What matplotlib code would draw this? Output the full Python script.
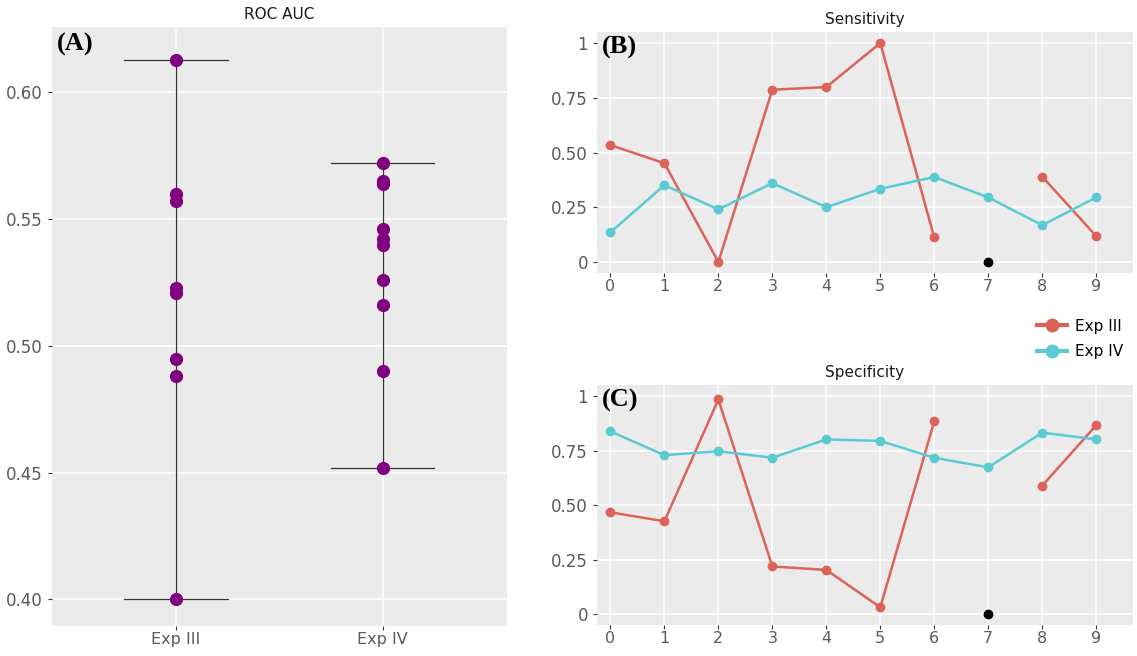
import matplotlib.pyplot as plt
from matplotlib.lines import Line2D
import numpy as np

groups = ['Exp III', 'Exp IV']
auc_exp3 = [0.613, 0.560, 0.557, 0.523, 0.521, 0.495, 0.488, 0.400]
auc_exp4 = [0.572, 0.565, 0.564, 0.546, 0.542, 0.540, 0.526, 0.516, 0.490, 0.452]

folds = list(range(10))
sens_exp3 = [0.534, 0.451, 0.0, 0.787, 0.799, 1.0, 0.112, np.nan, 0.390, 0.118]
sens_exp4 = [0.135, 0.351, 0.240, 0.360, 0.250, 0.334, 0.388, 0.295, 0.168, 0.295]
spec_exp3 = [0.467, 0.426, 0.984, 0.219, 0.203, 0.032, 0.884, np.nan, 0.589, 0.866]
spec_exp4 = [0.838, 0.729, 0.747, 0.717, 0.801, 0.794, 0.717, 0.673, 0.832, 0.801]
missing_fold = 7

red = '#dc6359'
teal = '#5bcbd1'
purple = '#800080'
bg = '#ebebeb'
tickcol = '#5a5a5a'

fig = plt.figure(figsize=(11.37, 6.56), dpi=100)


def style(ax):
    ax.set_facecolor(bg)
    for s in ax.spines.values():
        s.set_visible(False)
    ax.grid(True, color='white', linewidth=1.1)
    ax.set_axisbelow(True)
    ax.tick_params(colors='#333333', labelcolor=tickcol, labelsize=12, length=3, width=0.8)
    ax.tick_params(axis='x', pad=1.5, labelsize=11.5)


# (A) ROC AUC
ax1 = fig.add_axes([0.0457, 0.0457, 0.400, 0.913])
style(ax1)
for i, vals in enumerate([auc_exp3, auc_exp4]):
    lo, hi = min(vals), max(vals)
    ax1.plot([i, i], [lo, hi], color='#333333', linewidth=0.9, zorder=2)
    ax1.plot([i - 0.25, i + 0.25], [lo, lo], color='#333333', linewidth=0.9, zorder=2)
    ax1.plot([i - 0.25, i + 0.25], [hi, hi], color='#333333', linewidth=0.9, zorder=2)
    ax1.plot([i] * len(vals), vals, 'o', color=purple, markersize=8.5, zorder=3)
ax1.set_xlim(-0.6, 1.6)
ax1.set_ylim(0.3895, 0.6258)
ax1.set_xticks([0, 1])
ax1.set_xticklabels(groups)
ax1.set_yticks([0.40, 0.45, 0.50, 0.55, 0.60])
ax1.set_yticklabels(['0.40', '0.45', '0.50', '0.55', '0.60'])
ax1.set_title('ROC AUC', fontsize=11, color='#1a1a1a', pad=6)
ax1.text(0.01, 0.99, '(A)', transform=ax1.transAxes, ha='left', va='top',
         fontsize=19, fontweight='bold', family='Liberation Serif')


def line_panel(ax, v3, v4, title, label):
    style(ax)
    ax.plot(folds, v3, '-o', color=red, linewidth=1.8, markersize=6, label='Exp III', zorder=3)
    ax.plot(folds, v4, '-o', color=teal, linewidth=1.8, markersize=6, label='Exp IV', zorder=3)
    ax.plot([missing_fold], [0], 'o', color='black', markersize=6, zorder=4)
    ax.set_xlim(-0.25, 9.68)
    ax.set_ylim(-0.05, 1.05)
    ax.set_xticks(folds)
    ax.set_yticks([0, 0.25, 0.5, 0.75, 1])
    ax.set_yticklabels(['0', '0.25', '0.50', '0.75', '1'])
    ax.set_title(title, fontsize=11, color='#1a1a1a', pad=6)
    ax.text(0.01, 0.985, label, transform=ax.transAxes, ha='left', va='top',
            fontsize=19, fontweight='bold', family='Liberation Serif')


ax2 = fig.add_axes([0.525, 0.584, 0.4714, 0.367])
line_panel(ax2, sens_exp3, sens_exp4, 'Sensitivity', '(B)')

ax3 = fig.add_axes([0.525, 0.047, 0.4714, 0.366])
line_panel(ax3, spec_exp3, spec_exp4, 'Specificity', '(C)')

handles = [Line2D([], [], color=red, linewidth=3, marker='o', markersize=9),
           Line2D([], [], color=teal, linewidth=3, marker='o', markersize=9)]
fig.legend(handles, groups, loc='upper right', bbox_to_anchor=(1.0, 0.535), frameon=False,
           fontsize=11, handlelength=2.0, labelspacing=0.7, handletextpad=0.5)

plt.savefig('out.png', dpi=100)
